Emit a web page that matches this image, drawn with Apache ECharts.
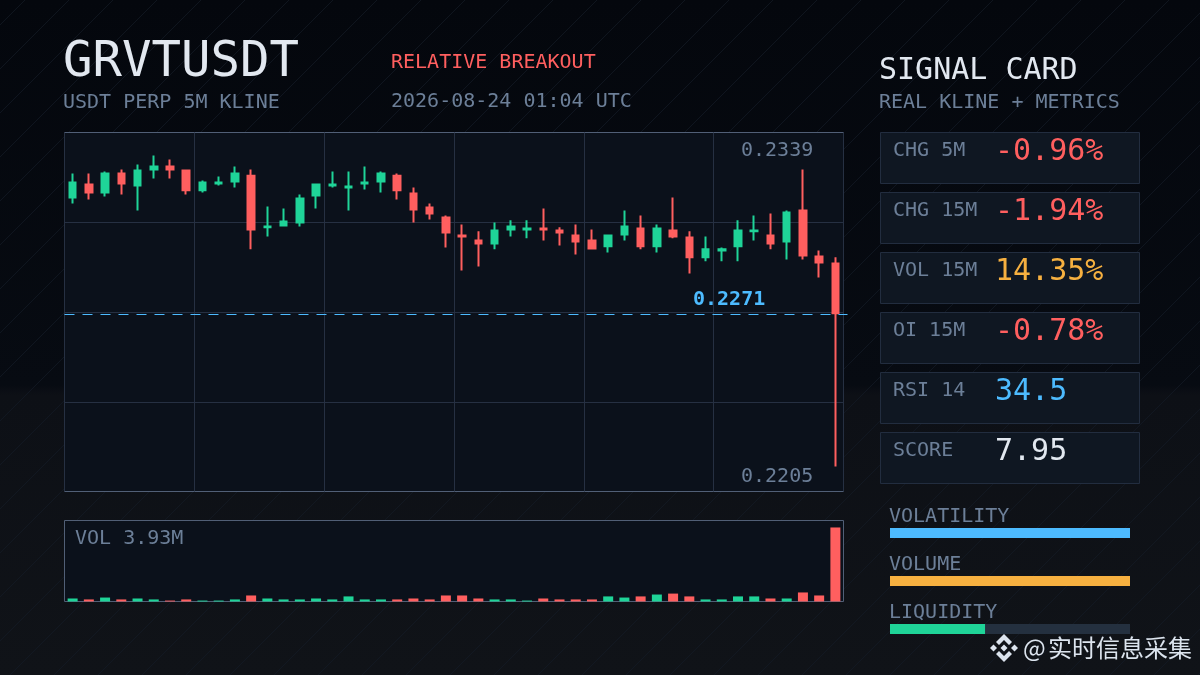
<!DOCTYPE html>
<html><head><meta charset="utf-8">
<style>html,body{margin:0;padding:0;background:#05080e}#c{width:1200px;height:675px}</style>
<script src="https://cdn.jsdelivr.net/npm/echarts@6/dist/echarts.min.js"></script>
</head><body><div id="c"></div>
<script>
// [open, close, low, high]
const candles = [
[.23147,.23203,.23125,.23237],[.23196,.23166,.23140,.23237],[.23166,.23237,.23151,.23244],[.23237,.23200,.23159,.23252],
[.23192,.23248,.23099,.23271],[.23252,.23263,.23218,.23304],[.23263,.23252,.23218,.23289],[.23248,.23174,.23159,.23252],
[.23174,.23203,.23166,.23211],[.23200,.23203,.23192,.23226],[.23207,.23237,.23185,.23263],[.23229,.23028,.22954,.23252],
[.23036,.23039,.23002,.23114],[.23043,.23058,.23039,.23106],[.23054,.23144,.23039,.23159],[.23155,.23196,.23106,.23200],
[.23192,.23196,.23185,.23244],[.23185,.23188,.23099,.23244],[.23200,.23203,.23177,.23263],[.23207,.23237,.23166,.23244],
[.23229,.23174,.23140,.23237],[.23162,.23103,.23054,.23185],[.23110,.23088,.23065,.23125],[.23073,.23017,.22961,.23080],
[.23006,.23002,.22875,.23047],[.22987,.22976,.22890,.23021],[.22976,.23024,.22954,.23054],[.23028,.23039,.23002,.23062],
[.23028,.23032,.22995,.23062],[.23032,.23028,.22987,.23106],[.23024,.23017,.22968,.23036],[.23006,.22983,.22935,.23047],
[.22987,.22957,.22954,.23028],[.22965,.23006,.22942,.23009],[.23009,.23039,.22987,.23099],[.23032,.22965,.22954,.23080],
[.22965,.23032,.22942,.23047],[.23024,.23002,.22995,.23147],[.22998,.22924,.22864,.23021],[.22924,.22954,.22909,.23002],
[.22950,.22954,.22909,.22961],[.22965,.23024,.22909,.23062],[.23021,.23024,.22987,.23080],[.23006,.22976,.22954,.23088],
[.22983,.23091,.22916,.23099],[.23099,.22931,.22916,.23252],[.22927,.22905,.22849,.22950],[.22901,.22715,.22143,.22924]
];
const volumes = [.16,.11,.21,.11,.16,.11,.05,.11,.05,.05,.11,.32,.16,.11,.11,.16,.11,.27,.11,.11,.11,.16,.11,.32,
.32,.16,.11,.11,.05,.16,.11,.11,.11,.27,.21,.27,.37,.42,.27,.11,.11,.27,.27,.16,.16,.48,.32,3.93];
const candleLabels = candles.map((_, i) => String(i + 1));
const priceMin = 0.2205, priceMax = 0.2339, lastPrice = 0.22714;
const priceGridLines = [0.22385, 0.2272, 0.23055];
const volumeMax = 4.3;
const cardLabels = ['CHG 5M','CHG 15M','VOL 15M','OI 15M','RSI 14','SCORE'];
const cardValues = ['-0.96%','-1.94%','14.35%','-0.78%','34.5','7.95'];
const cardColors = ['#ff5f5f','#ff5f5f','#f6b040','#ff5f5f','#4dbbff','#e2e8f0'];
const meterNames = ['VOLATILITY','VOLUME','LIQUIDITY'];
const meterValues = [100,100,39.6];
const meterColors = ['#4dbbff','#f6b040','#1fd498'];

const MONO = '"DejaVu Sans Mono", monospace';
const RED='#ff5f5f', GREEN='#1fd498', MUTED='#6c7f98', WHITE='#e2e8f0', BLUE='#4dbbff';
function txt(x,y,s,size,fill,extra){
  return {type:'text',x,y:y+2,z:20,silent:true,style:Object.assign({text:s,fill,font:'normal '+size+'px '+MONO,textVerticalAlign:'middle',textBaseline:'middle'},extra||{})};
}
const g = [];
// faint diagonal background texture
for (let k=-650;k<1250;k+=44){
  g.push({type:'line',z:-5,silent:true,shape:{x1:k,y1:675,x2:k+675,y2:0},style:{stroke:'#141b27',lineWidth:1,opacity:.7}});
}
g.push(txt(63,61,'GRVTUSDT',49,WHITE));
g.push(txt(63,101,'USDT PERP 5M KLINE',20,MUTED));
g.push(txt(391,61,'RELATIVE BREAKOUT',20,RED));
g.push(txt(391,100,'2026-08-24 01:04 UTC',20,MUTED));
g.push(txt(879,69,'SIGNAL CARD',30,WHITE));
g.push(txt(879,101,'REAL KLINE + METRICS',20,MUTED));
g.push(txt(741,149,priceMax.toFixed(4),20,MUTED));
g.push(txt(741,475,priceMin.toFixed(4),20,MUTED));
g.push(txt(75,537,'VOL '+volumes[volumes.length-1].toFixed(2)+'M',20,MUTED));
cardLabels.forEach((lab,i)=>{
  const top=132+60*i;
  g.push({type:'rect',z:1,silent:true,shape:{x:880.5,y:top+.5,width:259,height:51},style:{fill:'#0f1722',stroke:'#222d3f',lineWidth:1}});
  g.push(txt(893,top+17,lab,20,MUTED));
  g.push(txt(995,top+18,cardValues[i],30,cardColors[i]));
});
meterNames.forEach((n,i)=>g.push(txt(889,515+48*i,n,20,MUTED)));
// watermark
const cx=1004, cy=648;
const logoShapes=[
 [[0,-14],[8,-6],[5,-3],[0,-8],[-5,-3],[-8,-6]],
 [[0,14],[8,6],[5,3],[0,8],[-5,3],[-8,6]],
 [[-14,0],[-10.5,-3.5],[-7,0],[-10.5,3.5]],
 [[14,0],[10.5,-3.5],[7,0],[10.5,3.5]],
 [[0,-3.5],[3.5,0],[0,3.5],[-3.5,0]]
];
logoShapes.forEach(p=>g.push({type:'polygon',z:30,silent:true,shape:{points:p.map(q=>[cx+q[0],cy+q[1]])},style:{fill:'#dce4ee'}}));
const wmFont='normal 24px "Noto Sans CJK SC","Noto Sans",sans-serif';
g.push({type:'text',x:1023,y:648,z:30,silent:true,style:{text:'@',fill:'#dce4ee',font:wmFont,textVerticalAlign:'middle',textBaseline:'middle'}});
g.push({type:'text',x:1048,y:648,z:30,silent:true,style:{text:'实时信息采集',fill:'#dce4ee',font:wmFont,textVerticalAlign:'middle',textBaseline:'middle'}});

const frame='#515f76', gridCol='#263042';
const chart = echarts.init(document.getElementById('c'),null,{renderer:'canvas'});
chart.setOption({
  animation:false,
  backgroundColor:{type:'linear',x:0,y:0,x2:0,y2:1,colorStops:[
    {offset:0,color:'#04070d'},{offset:.57,color:'#070b12'},{offset:.585,color:'#0d1016'},{offset:1,color:'#101318'}]},
  graphic:{elements:g},
  grid:[
    {left:64.5,top:132.5,width:779,height:359,show:true,backgroundColor:'#0b111b',borderColor:frame,borderWidth:1},
    {left:64.5,top:520.5,width:779,height:81,show:true,backgroundColor:'#0b111b',borderColor:frame,borderWidth:1},
    {left:890,top:509,width:240,height:144,show:false}
  ],
  xAxis:[
    {type:'category',gridIndex:0,data:candleLabels,boundaryGap:true,axisLine:{show:false},axisTick:{show:false,interval:7},axisLabel:{show:false},
     splitLine:{show:true,interval:7,lineStyle:{color:gridCol,width:1}}},
    {type:'category',gridIndex:1,data:candleLabels,axisLine:{show:false},axisTick:{show:false},axisLabel:{show:false}},
    {type:'value',gridIndex:2,min:0,max:100,show:false,splitLine:{show:false}}
  ],
  yAxis:[
    {type:'value',gridIndex:0,min:priceMin,max:priceMax,scale:true,axisLine:{show:false},axisLabel:{show:false},
     axisTick:{show:false,customValues:priceGridLines},splitLine:{show:true,lineStyle:{color:gridCol,width:1}}},
    {type:'value',gridIndex:1,min:0,max:volumeMax,show:false,splitLine:{show:false}},
    {type:'category',gridIndex:2,data:meterNames,inverse:true,show:false}
  ],
  series:[
    {type:'candlestick',xAxisIndex:0,yAxisIndex:0,data:candles,barWidth:7,clip:false,
     itemStyle:{color:GREEN,color0:RED,borderColor:GREEN,borderColor0:RED,borderWidth:2}},
    {type:'custom',xAxisIndex:0,yAxisIndex:0,clip:false,silent:true,z:5,data:[[0,lastPrice]],encode:{x:0,y:1},
     renderItem(params,api){
       const y=Math.round(api.coord([0,api.value(1)])[1])+.5, cs=params.coordSys;
       return {type:'group',children:[
         {type:'line',shape:{x1:cs.x,y1:y,x2:cs.x+cs.width+4,y2:y},style:{stroke:BLUE,lineWidth:1,lineDash:[10,8]}},
         {type:'text',x:693,y:y-15,style:{text:api.value(1).toFixed(4),fill:BLUE,font:'bold 20px '+MONO,textVerticalAlign:'middle',textBaseline:'middle'}}
       ]};
     }},
    {type:'bar',xAxisIndex:1,yAxisIndex:1,barWidth:10,
     data:volumes.map((v,i)=>({value:v,itemStyle:{color:candles[i][1]>=candles[i][0]?GREEN:RED}}))},
    {type:'bar',xAxisIndex:2,yAxisIndex:2,barWidth:10,showBackground:true,backgroundStyle:{color:'#24303f'},
     data:meterValues.map((v,i)=>({value:v,itemStyle:{color:meterColors[i]}}))}
  ]
});
</script></body></html>
